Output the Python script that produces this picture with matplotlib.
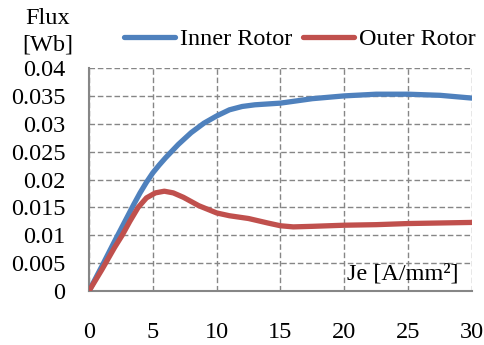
import matplotlib
matplotlib.use('Agg')
import matplotlib.pyplot as plt
from matplotlib.ticker import FuncFormatter

plt.rcParams['font.family'] = ['Liberation Serif', 'DejaVu Serif']

# current density [A/mm2]
je_inner = [0, 1, 2, 3, 3.5, 4, 4.5, 5, 5.5, 6, 7, 8, 9, 10, 11, 12, 13, 15, 17.5, 20, 22.5, 25, 27.5, 30]
flux_inner = [0, 0.0044, 0.0089, 0.0133, 0.0155, 0.0176, 0.0195, 0.0212, 0.0226, 0.0239, 0.0263, 0.0284,
              0.0301, 0.0314, 0.0325, 0.0331, 0.0334, 0.0337, 0.0345, 0.0350, 0.0353, 0.0353, 0.0351, 0.0346]
je_outer = [0, 1, 2, 2.6, 3.2, 3.85, 4.5, 5.2, 5.9, 6.6, 7.4, 8.6, 10, 11, 12.5, 14, 15, 16,
            17.5, 20, 22.5, 25, 27.5, 30]
flux_outer = [0, 0.0038, 0.0078, 0.0100, 0.0125, 0.0150, 0.0167, 0.0176, 0.0179, 0.0176, 0.0168,
              0.0153, 0.0140, 0.0135, 0.0130, 0.0122, 0.0117, 0.0115, 0.0116, 0.0118, 0.0119, 0.0121,
              0.0122, 0.0123]
xticks = [0, 5, 10, 15, 20, 25, 30]
yticks = [0, 0.005, 0.01, 0.015, 0.02, 0.025, 0.03, 0.035, 0.04]

fig = plt.figure(figsize=(4.85, 3.45), dpi=100)
ax = fig.add_axes([89 / 485, 1 - 291 / 345, (472 - 89) / 485, (291 - 68) / 345])

ax.plot(je_inner, flux_inner, color='#4F81BD', lw=3.8, solid_capstyle='round', label='Inner Rotor', zorder=3)
ax.plot(je_outer, flux_outer, color='#C0504D', lw=3.8, solid_capstyle='round', label='Outer Rotor', zorder=4)

ax.set_xlim(0, 30)
ax.set_ylim(0, 0.04)
ax.set_xticks(xticks)
ax.set_yticks(yticks)
ax.yaxis.set_major_formatter(FuncFormatter(lambda v, p: f'{v:g}'))
ax.tick_params(axis='both', length=0, labelsize=17.5)
ax.tick_params(axis='x', pad=22)
ax.tick_params(axis='y', pad=17)
ax.grid(True, color='#868686', linestyle=(0, (4, 2)), linewidth=1)
ax.set_axisbelow(True)
for s in ['top', 'right']:
    ax.spines[s].set_visible(False)
for s in ['left', 'bottom']:
    ax.spines[s].set_color('#868686')
    ax.spines[s].set_linewidth(1.5)

ax.text(0.965, 0.03, 'Je [A/mm²]', transform=ax.transAxes, ha='right', va='bottom', fontsize=17.5)

fig.text(48 / 485, 1 - 18 / 345, 'Flux', ha='center', va='center', fontsize=17.5)
fig.text(48 / 485, 1 - 45 / 345, '[Wb]', ha='center', va='center', fontsize=17.5)

fig.legend(loc='center left', bbox_to_anchor=(124 / 485, 1 - 39 / 345), ncol=2, frameon=False,
           fontsize=17.5, handlelength=2.1, handletextpad=0.2, columnspacing=0.45, borderaxespad=0,
           borderpad=0)

fig.savefig('out.png', dpi=100)
